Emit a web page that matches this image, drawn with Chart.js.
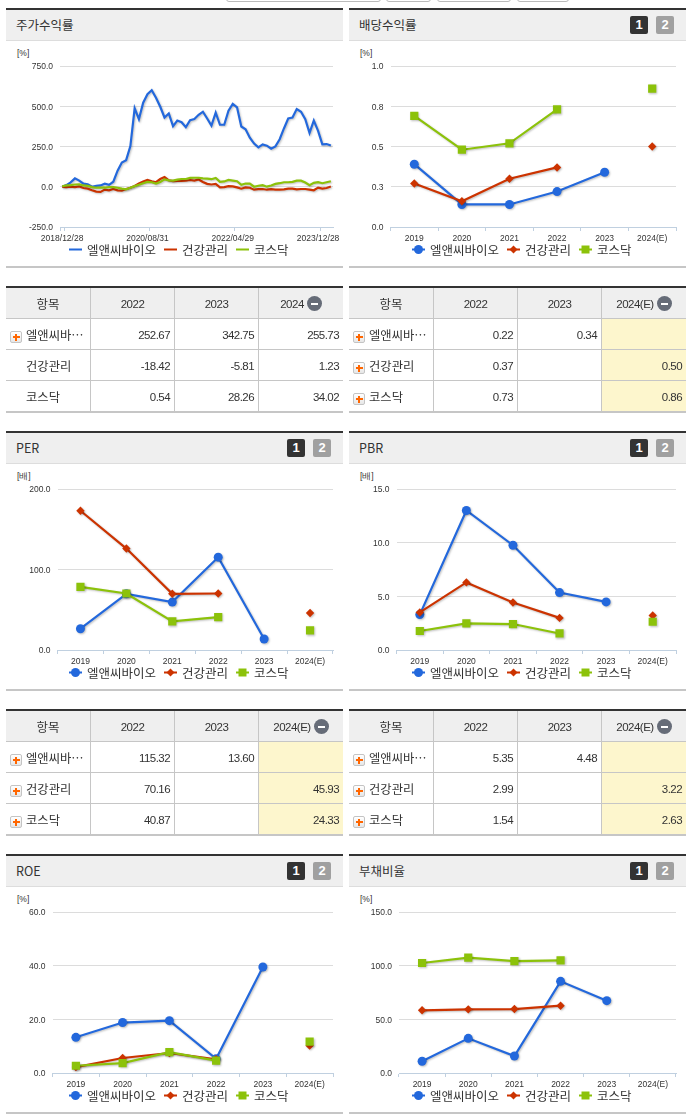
<!DOCTYPE html>
<html>
<head>
<meta charset="utf-8">
<script src="https://cdn.jsdelivr.net/npm/chart.js@4"></script>
<style>
html, body { margin: 0; padding: 0; background: #fff; }
body { position: relative; width: 691px; height: 1115px; overflow: hidden; font-family: "Noto Sans CJK KR", sans-serif; color: #333; }
.panel { position: absolute; width: 337px; height: 260px; }
.panel .bar { position: absolute; left: 0; right: 0; top: 0; height: 2px; background: #333; }
.panel .head { position: absolute; left: 0; top: 2px; height: 30px; line-height: 30px; background: #efefef; border-bottom: 1px solid #ddd; font-size: 12.5px; padding-left: 10px; width: 327px; }
.panel .unit { position: absolute; left: 11px; top: 39px; font: 8.5px/12px "Liberation Sans", sans-serif; }
.panel canvas.plot { position: absolute; left: 0; top: 33px; }
.panel .foot { position: absolute; left: 0; right: 0; top: 258px; height: 2px; background: #c6c6c6; }
.legend { position: absolute; left: 63px; top: 231px; height: 20px; display: flex; align-items: center; font-size: 12.5px; white-space: nowrap; }
.legend canvas { margin-right: 5px; }
.legend span { margin-right: 8px; }
.num { position: absolute; top: 8px; width: 18px; height: 18px; border-radius: 2px; color: #fff; font: bold 13px/18px "Liberation Sans", sans-serif; text-align: center; }
.num.on { left: 281px; background: #333; }
.num.off { left: 307px; background: #a0a0a0; }
table { position: absolute; width: 337px; border-collapse: separate; border-spacing: 0; table-layout: fixed; border-top: 2px solid #333; border-bottom: 2px solid #c6c6c6; }
th, td { height: 31px; padding: 0; border-left: 1px solid #c6c6c6; border-top: 1px solid #c6c6c6; box-sizing: border-box; }
th:first-child, td:first-child { border-left: 0; }
tr:first-child th { border-top: 0; height: 30px; padding-top: 1px; }
th { background: #efefef; font-weight: normal; font-size: 11.5px; letter-spacing: -0.5px; font-family: "Liberation Sans", sans-serif; }
th.name { font-family: "Noto Sans CJK KR", sans-serif; font-size: 12.5px; letter-spacing: 0; }
td { font: 11.5px "Liberation Sans", sans-serif; letter-spacing: -0.55px; text-align: right; padding: 2px 4px 0 0; }
td.name { font: 12.3px "Noto Sans CJK KR", sans-serif; letter-spacing: 0; text-align: left; padding: 2px 0 0 20px; position: relative; white-space: nowrap; }
td.est { background: #fdf6cd; }
.plus { position: absolute; left: 4px; top: 12px; width: 10px; height: 10px; border: 1px solid #c4c4c4; border-radius: 2px; background:
  linear-gradient(#f60, #f60) center / 7px 2px no-repeat, linear-gradient(#f60, #f60) center / 2px 7px no-repeat, linear-gradient(#fff, #e6e6e6); }
.minus { display: inline-block; width: 15px; height: 15px; border-radius: 50%; margin-left: 3px; vertical-align: -3px; background: linear-gradient(#fff, #fff) center / 7px 2px no-repeat, #666c78; }
.stub { position: absolute; top: -4px; height: 4px; border: 1px solid #bbb; border-radius: 3px; background: #fff; }
</style>
</head>
<body>
<script>
const seriesNames = ['엘앤씨바이오', '건강관리', '코스닥'];
const seriesColors = ['#2368dc', '#cc3300', '#8cc20a'];
const years = ['2019', '2020', '2021', '2022', '2023', '2024(E)'];

const stockDates = [
  '2018/12/28', '2019/01/31', '2019/02/28', '2019/03/29', '2019/04/30', '2019/05/31', '2019/06/28', '2019/07/31',
  '2019/08/30', '2019/09/30', '2019/10/31', '2019/11/29', '2019/12/30', '2020/01/31', '2020/02/28', '2020/03/31',
  '2020/04/29', '2020/05/29', '2020/06/30', '2020/07/31', '2020/08/31', '2020/09/29', '2020/10/30', '2020/11/30',
  '2020/12/30', '2021/01/29', '2021/02/26', '2021/03/31', '2021/04/30', '2021/05/31', '2021/06/30', '2021/07/30',
  '2021/08/31', '2021/09/30', '2021/10/29', '2021/11/30', '2021/12/30', '2022/01/28', '2022/02/28', '2022/03/31',
  '2022/04/29', '2022/05/31', '2022/06/30', '2022/07/29', '2022/08/31', '2022/09/30', '2022/10/31', '2022/11/30',
  '2022/12/29', '2023/01/31', '2023/02/28', '2023/03/31', '2023/04/28', '2023/05/31', '2023/06/30', '2023/07/31',
  '2023/08/31', '2023/09/27', '2023/10/31', '2023/11/30', '2023/12/28', '2024/01/31', '2024/02/29', '2024/03/29'
];
const stockCompany = [
  0, 10, 27, 52, 38, 19, 15, 0, 6, 8, 19, 12, 31, 100, 150, 165,
  253, 487, 420, 522, 575, 600, 553, 497, 430, 455, 376, 411, 401, 370, 413, 420,
  447, 466, 424, 380, 460, 385, 385, 472, 514, 493, 374, 357, 305, 268, 245, 263,
  255, 236, 251, 295, 362, 424, 430, 483, 466, 420, 334, 411, 347, 263, 265, 255.73
];
const stockSector = [
  0, -3, 0, -2, 2, -8, -12, -22, -30, -32, -18, -22, -14, -22, -24, -14,
  -6, 5, 20, 32, 42, 34, 28, 48, 60, 40, 35, 37, 37, 38, 42, 38,
  45, 30, 18, 14, 18, -4, -2, 4, 2, -4, -12, -4, -6, -18, -15, -14,
  -18.42, -15, -18, -18, -16, -12, -12, -16, -14, -14, -18, -22, -5.81, -12, -8, 1.23
];
const stockKosdaq = [
  3, 8, 10, 14, 15, 8, 5, -2, -6, -6, -6, -2, -2, -6, -12, -16,
  -6, 4, 12, 22, 30, 28, 20, 30, 46, 40, 38, 44, 48, 48, 55, 56,
  56, 52, 50, 47, 55, 30, 33, 42, 38, 34, 12, 20, 20, 0, 6, 10,
  0.54, 8, 18, 22, 28, 28, 30, 38, 38, 26, 10, 24, 28.26, 22, 28, 34.02
];
const stockTicks = [-250, 0, 250, 500, 750];

const dividendCompany = [0.39, 0.14, 0.14, 0.22, 0.34, null];
const dividendSector = [0.27, 0.16, 0.30, 0.37, null, 0.50];
const dividendKosdaq = [0.69, 0.48, 0.52, 0.73, null, 0.86];
const dividendTicks = [0, 0.25, 0.5, 0.75, 1];

const perCompany = [26.4, 69.8, 59.5, 115.32, 13.6, null];
const perSector = [173, 126, 69.8, 70.16, null, 45.93];
const perKosdaq = [78.5, 70.2, 35.5, 40.87, null, 24.33];
const perTicks = [0, 100, 200];

const pbrCompany = [3.3, 13.0, 9.76, 5.35, 4.48, null];
const pbrSector = [3.5, 6.3, 4.43, 2.99, null, 3.22];
const pbrKosdaq = [1.77, 2.48, 2.42, 1.54, null, 2.63];
const pbrTicks = [0, 5, 10, 15];

const roeCompany = [13.3, 18.8, 19.5, 5.3, 39.5, null];
const roeSector = [2.2, 5.6, 7.45, 5.1, null, 10.2];
const roeKosdaq = [2.7, 3.7, 7.8, 4.6, null, 11.7];
const roeTicks = [0, 20, 40, 60];

const debtCompany = [10.9, 32.3, 15.8, 85.4, 67.4, null];
const debtSector = [58.4, 59.3, 59.6, 62.7, null, null];
const debtKosdaq = [102.5, 107.5, 104.3, 105, null, null];
const debtTicks = [0, 50, 100, 150];

const pointStyles = ['circle', 'rectRot', 'rect'];
const pointSizes = [4.5, 4.2, 5.8];

// shadow under the lines, the source chart has one
const shadowPlugin = {
  id: 'lineShadow',
  beforeDatasetDraw(chart) {
    const ctx = chart.ctx;
    ctx.save();
    ctx.shadowColor = 'rgba(0,0,0,0.25)';
    ctx.shadowOffsetX = 1;
    ctx.shadowOffsetY = 1;
    ctx.shadowBlur = 2;
  },
  afterDatasetDraw(chart) {
    chart.ctx.restore();
  }
};

function legendIcon(index, withMarker) {
  const c = document.createElement('canvas');
  c.width = 13;
  c.height = 11;
  const ctx = c.getContext('2d');
  ctx.fillStyle = seriesColors[index];
  ctx.fillRect(0, 4.5, 13, 2);
  if (withMarker) {
    ctx.beginPath();
    if (index === 0) {
      ctx.arc(6.5, 5.5, 4.5, 0, Math.PI * 2);
    } else if (index === 1) {
      ctx.moveTo(6.5, 1.5); ctx.lineTo(10.5, 5.5); ctx.lineTo(6.5, 9.5); ctx.lineTo(2.5, 5.5);
    } else {
      ctx.rect(2.5, 1.5, 8, 8);
    }
    ctx.fill();
  }
  return c;
}

function makeChart(canvas, labels, values, yTicks, plotLeft, isStock) {
  const datasets = values.map((data, i) => ({
    label: seriesNames[i],
    data: data,
    order: 3 - i,
    borderColor: seriesColors[i],
    backgroundColor: seriesColors[i],
    borderWidth: 2.2,
    tension: 0,
    spanGaps: false,
    pointStyle: pointStyles[i],
    pointRadius: isStock ? 0 : pointSizes[i],
    pointBorderWidth: 0,
    pointBackgroundColor: seriesColors[i]
  }));

  new Chart(canvas, {
    type: 'line',
    data: { labels: labels, datasets: datasets },
    plugins: [shadowPlugin],
    options: {
      responsive: false,
      animation: false,
      devicePixelRatio: 1,
      layout: { padding: { left: 0, right: 10, top: 25, bottom: 0 } },
      plugins: {
        tooltip: { enabled: false },
        legend: { display: false }
      },
      scales: {
        x: {
          type: 'category',
          offset: true,
          afterFit: (scale) => { scale.height = 39; },
          border: { color: '#c0d0e0' },
          grid: {
            offset: true,
            drawOnChartArea: false,
            tickLength: 4,
            tickColor: (ctx) => {
              if (!isStock) return '#c0d0e0';
              const i = ctx.index;
              return (i === 0 || i === labels.length || (i - 1) % 20 === 0) ? '#c0d0e0' : 'rgba(0,0,0,0)';
            }
          },
          ticks: {
            autoSkip: false,
            maxRotation: 0,
            minRotation: 0,
            padding: 3,
            color: '#333',
            font: { family: '"Liberation Sans"', size: 8.5 },
            callback: function (value, index) {
              if (isStock && index % 20 !== 0) return '';
              return this.getLabelForValue(value);
            }
          }
        },
        y: {
          min: yTicks[0],
          max: yTicks[yTicks.length - 1],
          afterFit: (scale) => { scale.width = plotLeft; },
          afterBuildTicks: (scale) => { scale.ticks = yTicks.map((v) => ({ value: v })); },
          border: { display: false },
          grid: { color: '#dcdcdc', lineWidth: 1, drawTicks: false },
          ticks: {
            padding: 7,
            labelOffset: 1,
            color: '#333',
            font: { family: '"Liberation Sans"', size: 8.5 },
            callback: (value) => value.toFixed(1)
          }
        }
      }
    }
  });
}

function addPanel(x, top, title, unit, hasNums, isStock) {
  const panel = document.createElement('div');
  panel.className = 'panel';
  panel.style.left = x + 'px';
  panel.style.top = top + 'px';
  panel.innerHTML = `
    <div class="bar"></div>
    <div class="head">${title}</div>
    ${hasNums ? '<div class="num on">1</div><div class="num off">2</div>' : ''}
    <div class="unit">[${unit}]</div>
    <canvas class="plot" width="337" height="225"></canvas>
    <div class="legend"></div>
    <div class="foot"></div>`;
  const legend = panel.querySelector('.legend');
  seriesNames.forEach((name, i) => {
    legend.appendChild(legendIcon(i, !isStock));
    const label = document.createElement('span');
    label.textContent = name;
    legend.appendChild(label);
  });
  document.body.appendChild(panel);
  return panel.querySelector('canvas.plot');
}

function addTable(x, top, heads, rows, estimate, plusRows) {
  const t = document.createElement('table');
  t.style.left = x + 'px';
  t.style.top = top + 'px';
  t.innerHTML = `
    <colgroup><col style="width:84px"><col style="width:84px"><col style="width:84px"><col style="width:85px"></colgroup>
    <tr>
      <th class="name">항목</th><th>${heads[0]}</th><th>${heads[1]}</th><th>${heads[2]}<span class="minus"></span></th>
    </tr>
    ${rows.map((r, i) => `<tr>
      <td class="name">${plusRows[i] ? '<span class="plus"></span>' : ''}${r[0]}</td>
      <td>${r[1]}</td><td>${r[2]}</td><td class="${estimate ? 'est' : ''}">${r[3]}</td>
    </tr>`).join('')}`;
  document.body.appendChild(t);
}

const shortName = '엘앤씨바…';

makeChart(addPanel(6, 8, '주가수익률', '%', false, true), stockDates, [stockCompany, stockSector, stockKosdaq], stockTicks, 54, true);
makeChart(addPanel(349, 8, '배당수익률', '%', true, false), years, [dividendCompany, dividendSector, dividendKosdaq], dividendTicks, 41.5, false);
makeChart(addPanel(6, 431, 'PER', '배', true, false), years, [perCompany, perSector, perKosdaq], perTicks, 51.5, false);
makeChart(addPanel(349, 431, 'PBR', '배', true, false), years, [pbrCompany, pbrSector, pbrKosdaq], pbrTicks, 47.5, false);
makeChart(addPanel(6, 854, 'ROE', '%', true, false), years, [roeCompany, roeSector, roeKosdaq], roeTicks, 46.5, false);
makeChart(addPanel(349, 854, '부채비율', '%', true, false), years, [debtCompany, debtSector, debtKosdaq], debtTicks, 50, false);

addTable(6, 286, ['2022', '2023', '2024'], [
  [shortName, '252.67', '342.75', '255.73'],
  ['건강관리', '-18.42', '-5.81', '1.23'],
  ['코스닥', '0.54', '28.26', '34.02']
], false, [true, false, false]);
addTable(349, 286, ['2022', '2023', '2024(E)'], [
  [shortName, '0.22', '0.34', ''],
  ['건강관리', '0.37', '', '0.50'],
  ['코스닥', '0.73', '', '0.86']
], true, [true, true, true]);
addTable(6, 709, ['2022', '2023', '2024(E)'], [
  [shortName, '115.32', '13.60', ''],
  ['건강관리', '70.16', '', '45.93'],
  ['코스닥', '40.87', '', '24.33']
], true, [true, true, true]);
addTable(349, 709, ['2022', '2023', '2024(E)'], [
  [shortName, '5.35', '4.48', ''],
  ['건강관리', '2.99', '', '3.22'],
  ['코스닥', '1.54', '', '2.63']
], true, [true, true, true]);

// bits of the toolbar cut off at the top of the page
[[226, 153], [386, 43], [437, 72], [517, 50]].forEach(([left, width]) => {
  const s = document.createElement('div');
  s.className = 'stub';
  s.style.left = left + 'px';
  s.style.width = width + 'px';
  document.body.appendChild(s);
});
</script>
</body>
</html>
